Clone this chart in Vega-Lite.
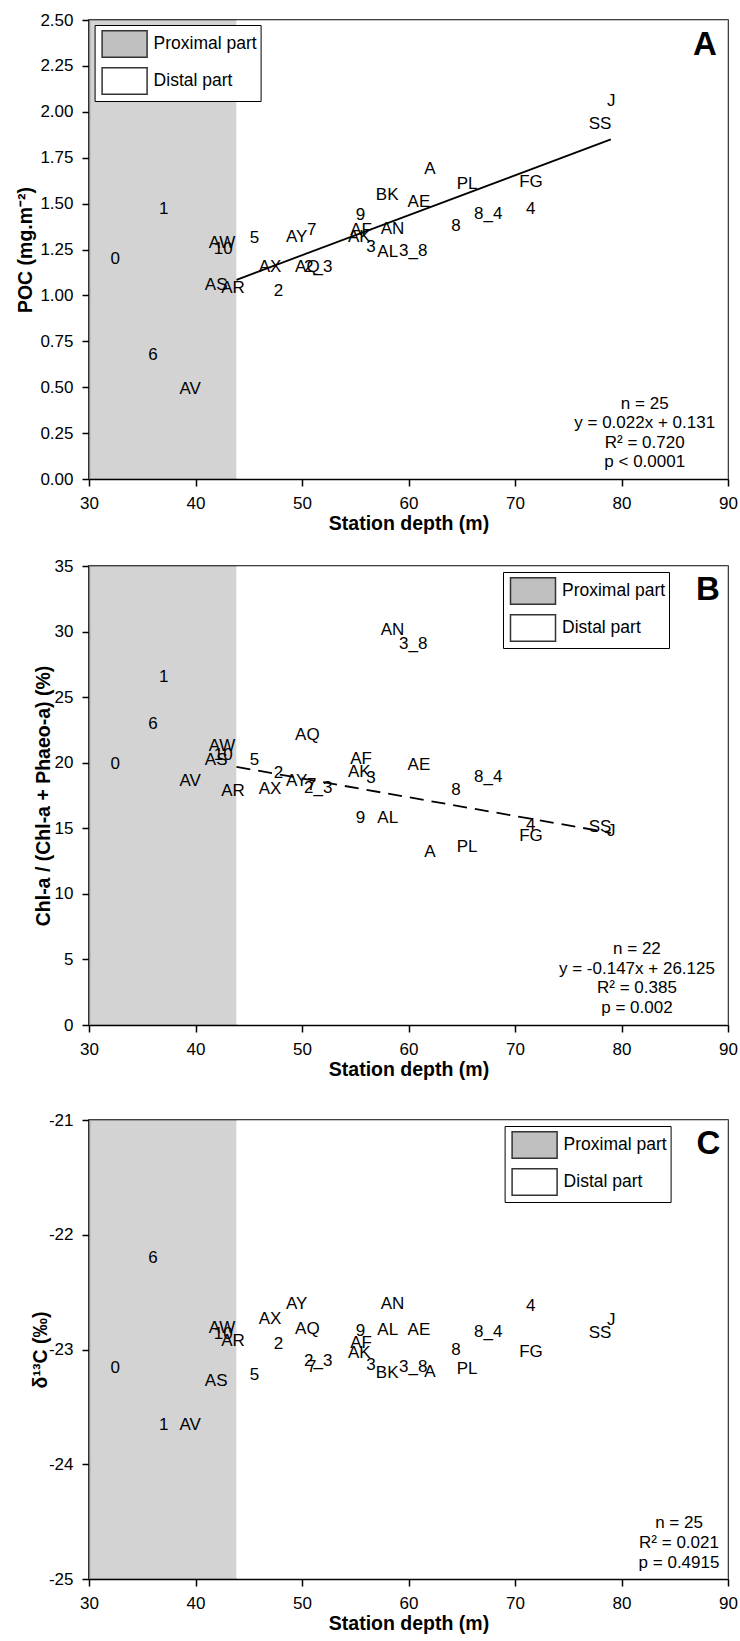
{
  "$schema": "https://vega.github.io/schema/vega-lite/v6.json",
  "padding": {"left": 15, "top": 10, "right": 3, "bottom": 2},
  "spacing": 22,
  "background": "white",
  "resolve": {"scale": {"fill": "independent"}, "legend": {"fill": "independent"}},
  "config": {
    "font": "Liberation Sans",
    "view": {"stroke": "black", "strokeWidth": 1.5},
    "axis": {"grid": false, "domainColor": "black", "domainWidth": 1.5, "tickColor": "black", "tickWidth": 1.5, "tickSize": 7,
      "labelFontSize": 17, "labelColor": "black", "labelFont": "Liberation Sans", "titleFont": "Liberation Sans",
      "titleFontSize": 19.5, "titleFontWeight": "bold", "titleColor": "black", "labelPadding": 9, "labelFlush": false, "labelOverlap": false},
    "axisX": {"titlePadding": 3},
    "axisY": {"titlePadding": 4},
    "text": {"color": "black", "font": "Liberation Sans", "fontSize": 17},
    "legend": {"orient": "none", "padding": 3, "strokeColor": "black", "fillColor": "white",
      "symbolType": "M-1.5,-0.89H1.5V0.89H-1.5Z", "symbolSize": 900, "symbolOffset": 11, "labelFontSize": 17.5, "labelColor": "black",
      "labelFont": "Liberation Sans", "labelOffset": 13, "rowPadding": 3, "symbolStrokeColor": "#333", "symbolStrokeWidth": 1.5,
      "labelExpr": "datum.label + '  '"}
  },
  "datasets": {
    "parts": [
      {"part": "Proximal part", "d": 30, "d2": 43.85},
      {"part": "Distal part", "d": 43.85, "d2": 90}
    ],
    "lineA": [{"d": 43.85, "v": 1.085}, {"d": 79.0, "v": 1.85}],
    "lineB": [{"d": 43.85, "v": 19.68}, {"d": 79.0, "v": 14.65}],
    "st": [
      {"s": "0", "d": 32.47, "poc": 1.2, "chl": 19.88, "c13": -23.16},
      {"s": "1", "d": 37.02, "poc": 1.473, "chl": 26.5, "c13": -23.655},
      {"s": "6", "d": 36.0, "poc": 0.678, "chl": 22.96, "c13": -22.2},
      {"s": "AV", "d": 39.5, "poc": 0.488, "chl": 18.6, "c13": -23.655},
      {"s": "AW", "d": 42.49, "poc": 1.287, "chl": 21.3, "c13": -22.81},
      {"s": "10", "d": 42.6, "poc": 1.251, "chl": 20.62, "c13": -22.866},
      {"s": "AS", "d": 41.94, "poc": 1.055, "chl": 20.24, "c13": -23.278},
      {"s": "AR", "d": 43.53, "poc": 1.042, "chl": 17.84, "c13": -22.924},
      {"s": "5", "d": 45.53, "poc": 1.313, "chl": 20.24, "c13": -23.22},
      {"s": "AY", "d": 49.5, "poc": 1.318, "chl": 18.58, "c13": -22.6},
      {"s": "7", "d": 50.92, "poc": 1.355, "chl": 18.29, "c13": -23.156},
      {"s": "AX", "d": 47.0, "poc": 1.155, "chl": 17.98, "c13": -22.73},
      {"s": "AQ", "d": 50.5, "poc": 1.152, "chl": 22.15, "c13": -22.817},
      {"s": "2_3", "d": 51.52, "poc": 1.155, "chl": 18.11, "c13": -23.098},
      {"s": "2", "d": 47.8, "poc": 1.024, "chl": 19.2, "c13": -22.95},
      {"s": "9", "d": 55.49, "poc": 1.44, "chl": 15.75, "c13": -22.837},
      {"s": "AF", "d": 55.55, "poc": 1.355, "chl": 20.32, "c13": -22.946},
      {"s": "AK", "d": 55.38, "poc": 1.318, "chl": 19.31, "c13": -23.028},
      {"s": "3", "d": 56.48, "poc": 1.264, "chl": 18.8, "c13": -23.135},
      {"s": "AN", "d": 58.5, "poc": 1.36, "chl": 30.14, "c13": -22.6},
      {"s": "AL", "d": 58.05, "poc": 1.236, "chl": 15.75, "c13": -22.83},
      {"s": "3_8", "d": 60.45, "poc": 1.24, "chl": 29.08, "c13": -23.149},
      {"s": "BK", "d": 58.0, "poc": 1.549, "chl": null, "c13": -23.207},
      {"s": "AE", "d": 60.98, "poc": 1.509, "chl": 19.86, "c13": -22.83},
      {"s": "A", "d": 62.0, "poc": 1.691, "chl": 13.21, "c13": -23.194},
      {"s": "PL", "d": 65.5, "poc": 1.609, "chl": 13.54, "c13": -23.17},
      {"s": "8", "d": 64.46, "poc": 1.378, "chl": 17.91, "c13": -23.0},
      {"s": "8_4", "d": 67.49, "poc": 1.445, "chl": 18.93, "c13": -22.85},
      {"s": "FG", "d": 71.5, "poc": 1.618, "chl": 14.43, "c13": -23.02},
      {"s": "4", "d": 71.47, "poc": 1.473, "chl": 15.25, "c13": -22.625},
      {"s": "SS", "d": 77.99, "poc": 1.936, "chl": 15.11, "c13": -22.86},
      {"s": "J", "d": 79.04, "poc": 2.058, "chl": 14.79, "c13": -22.74}
    ]
  },
  "vconcat": [
    {
      "width": 639, "height": 459,
      "layer": [
        {"data": {"name": "parts"}, "mark": {"type": "rect", "fillOpacity": 0.7},
          "encoding": {
            "x": {"field": "d", "type": "quantitative", "scale": {"domain": [30, 90], "nice": false, "zero": false},
              "title": "Station depth (m)", "axis": {"values": [30, 40, 50, 60, 70, 80, 90]}},
            "x2": {"field": "d2"},
            "fill": {"field": "part", "type": "nominal", "scale": {"domain": ["Proximal part", "Distal part"], "range": ["#c0c0c0", "#ffffff"]},
              "legend": {"title": null, "legendX": 5.6, "legendY": 5,
                "encode": {"symbols": {"update": {"stroke": {"value": "#333"}, "strokeWidth": {"value": 1.5}, "fillOpacity": {"value": 1}, "opacity": {"value": 1}}}}}}
          }},
        {"data": {"name": "lineA"}, "mark": {"type": "line", "color": "black", "strokeWidth": 1.8},
          "encoding": {"x": {"field": "d", "type": "quantitative", "title": "Station depth (m)"}, "y": {"field": "v", "type": "quantitative", "title": "POC (mg.m⁻²)"}}},
        {"data": {"name": "st"}, "mark": {"type": "text", "align": "center", "baseline": "middle"},
          "encoding": {
            "x": {"field": "d", "type": "quantitative", "title": "Station depth (m)"},
            "y": {"field": "poc", "type": "quantitative", "scale": {"domain": [0, 2.5], "nice": false, "zero": false},
              "title": "POC (mg.m⁻²)", "axis": {"values": [0, 0.25, 0.5, 0.75, 1, 1.25, 1.5, 1.75, 2, 2.25, 2.5], "format": ".2f", "titlePadding": 4}},
            "text": {"field": "s"}
          }},
        {"data": {"values": [{}]}, "mark": {"type": "text", "text": ["n = 25", "y = 0.022x + 0.131", "R² = 0.720", "p < 0.0001"], "lineHeight": 19.4, "align": "center", "baseline": "middle"},
          "encoding": {"x": {"datum": 82.18, "type": "quantitative", "title": "Station depth (m)"}, "y": {"datum": 0.409, "type": "quantitative", "title": "POC (mg.m⁻²)"}}},
        {"data": {"values": [{}]}, "mark": {"type": "text", "text": "A", "fontSize": 33, "fontWeight": "bold", "align": "center", "baseline": "middle"},
          "encoding": {"x": {"datum": 87.84, "type": "quantitative", "title": "Station depth (m)"}, "y": {"datum": 2.364, "type": "quantitative", "title": "POC (mg.m⁻²)"}}}
      ]
    },
    {
      "width": 639, "height": 459,
      "layer": [
        {"data": {"name": "parts"}, "mark": {"type": "rect", "fillOpacity": 0.7},
          "encoding": {
            "x": {"field": "d", "type": "quantitative", "scale": {"domain": [30, 90], "nice": false, "zero": false},
              "title": "Station depth (m)", "axis": {"values": [30, 40, 50, 60, 70, 80, 90]}},
            "x2": {"field": "d2"},
            "fill": {"field": "part", "type": "nominal", "scale": {"domain": ["Proximal part", "Distal part"], "range": ["#c0c0c0", "#ffffff"]},
              "legend": {"title": null, "legendX": 414, "legendY": 6,
                "encode": {"symbols": {"update": {"stroke": {"value": "#333"}, "strokeWidth": {"value": 1.5}, "fillOpacity": {"value": 1}, "opacity": {"value": 1}}}}}}
          }},
        {"data": {"name": "lineB"}, "mark": {"type": "line", "color": "black", "strokeWidth": 1.8, "strokeDash": [14, 8]},
          "encoding": {"x": {"field": "d", "type": "quantitative", "title": "Station depth (m)"}, "y": {"field": "v", "type": "quantitative", "title": "Chl-a / (Chl-a + Phaeo-a) (%)"}}},
        {"data": {"name": "st"}, "transform": [{"filter": "isValid(datum.chl)"}], "mark": {"type": "text", "align": "center", "baseline": "middle"},
          "encoding": {
            "x": {"field": "d", "type": "quantitative", "title": "Station depth (m)"},
            "y": {"field": "chl", "type": "quantitative", "scale": {"domain": [0, 35], "nice": false, "zero": false},
              "title": "Chl-a / (Chl-a + Phaeo-a) (%)", "axis": {"values": [0, 5, 10, 15, 20, 25, 30, 35], "titlePadding": 1}},
            "text": {"field": "s"}
          }},
        {"data": {"values": [{}]}, "mark": {"type": "text", "text": ["n = 22", "y = -0.147x + 26.125", "R² = 0.385", "p = 0.002"], "lineHeight": 19.6, "align": "center", "baseline": "middle"},
          "encoding": {"x": {"datum": 81.45, "type": "quantitative", "title": "Station depth (m)"}, "y": {"datum": 5.8, "type": "quantitative", "title": "Chl-a / (Chl-a + Phaeo-a) (%)"}}},
        {"data": {"values": [{}]}, "mark": {"type": "text", "text": "B", "fontSize": 33, "fontWeight": "bold", "align": "center", "baseline": "middle"},
          "encoding": {"x": {"datum": 88.12, "type": "quantitative", "title": "Station depth (m)"}, "y": {"datum": 33.14, "type": "quantitative", "title": "Chl-a / (Chl-a + Phaeo-a) (%)"}}}
      ]
    },
    {
      "width": 639, "height": 459,
      "title": {"text": " ", "fontSize": 6, "offset": 2},
      "layer": [
        {"data": {"name": "parts"}, "mark": {"type": "rect", "fillOpacity": 0.7},
          "encoding": {
            "x": {"field": "d", "type": "quantitative", "scale": {"domain": [30, 90], "nice": false, "zero": false},
              "title": "Station depth (m)", "axis": {"values": [30, 40, 50, 60, 70, 80, 90]}},
            "x2": {"field": "d2"},
            "fill": {"field": "part", "type": "nominal", "scale": {"domain": ["Proximal part", "Distal part"], "range": ["#c0c0c0", "#ffffff"]},
              "legend": {"title": null, "legendX": 415.6, "legendY": 6,
                "encode": {"symbols": {"update": {"stroke": {"value": "#333"}, "strokeWidth": {"value": 1.5}, "fillOpacity": {"value": 1}, "opacity": {"value": 1}}}}}}
          }},
        {"data": {"name": "st"}, "mark": {"type": "text", "align": "center", "baseline": "middle"},
          "encoding": {
            "x": {"field": "d", "type": "quantitative", "title": "Station depth (m)"},
            "y": {"field": "c13", "type": "quantitative", "scale": {"domain": [-25, -21], "nice": false, "zero": false},
              "title": "δ¹³C (‰)", "axis": {"values": [-25, -24, -23, -22, -21], "labelExpr": "datum.value + ''", "titlePadding": -2}},
            "text": {"field": "s"}
          }},
        {"data": {"values": [{}]}, "mark": {"type": "text", "text": ["n = 25", "R² = 0.021", "p = 0.4915"], "lineHeight": 19.6, "align": "center", "baseline": "middle"},
          "encoding": {"x": {"datum": 85.4, "type": "quantitative", "title": "Station depth (m)"}, "y": {"datum": -24.515, "type": "quantitative", "title": "δ¹³C (‰)"}}},
        {"data": {"values": [{}]}, "mark": {"type": "text", "text": "C", "fontSize": 33, "fontWeight": "bold", "align": "center", "baseline": "middle"},
          "encoding": {"x": {"datum": 88.16, "type": "quantitative", "title": "Station depth (m)"}, "y": {"datum": -21.21, "type": "quantitative", "title": "δ¹³C (‰)"}}}
      ]
    }
  ]
}
